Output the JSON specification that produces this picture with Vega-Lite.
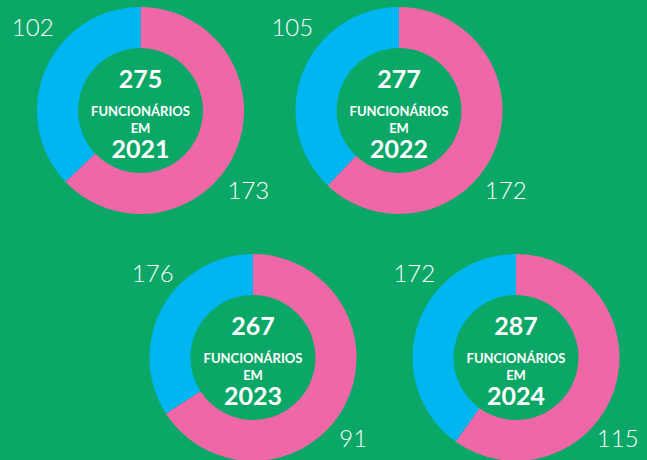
{
  "$schema": "https://vega.github.io/schema/vega-lite/v6.json",
  "background": "#0ba767",
  "padding": {"left": 0, "top": 0, "right": 14, "bottom": 0},
  "config": {"view": {"stroke": null}, "concat": {"spacing": 0}},
  "datasets": {
    "donuts": [
      {"ano": 2021, "genero": "Mulheres", "valor": 173, "rotulo": "173"},
      {"ano": 2021, "genero": "Homens", "valor": 102, "rotulo": "102"},
      {"ano": 2022, "genero": "Mulheres", "valor": 172, "rotulo": "172"},
      {"ano": 2022, "genero": "Homens", "valor": 105, "rotulo": "105"},
      {"ano": 2023, "genero": "Mulheres", "valor": 176, "rotulo": "91"},
      {"ano": 2023, "genero": "Homens", "valor": 91, "rotulo": "176"},
      {"ano": 2024, "genero": "Mulheres", "valor": 172, "rotulo": "115"},
      {"ano": 2024, "genero": "Homens", "valor": 115, "rotulo": "172"}
    ],
    "totais": [
      {"ano": 2021, "total": 275},
      {"ano": 2022, "total": 277},
      {"ano": 2023, "total": 267},
      {"ano": 2024, "total": 287}
    ]
  },
  "spacing": 0,
  "vconcat": [
    {
      "spacing": 0,
      "bounds": "flush",
      "hconcat": [
        {
          "width": 281, "height": 221,
          "layer": [
            {
              "data": {"name": "donuts"},
              "transform": [{"filter": "datum.ano == 2021"}],
              "mark": {"type": "arc", "innerRadius": 62.5, "outerRadius": 103.5},
              "encoding": {
                "theta": {"field": "valor", "type": "quantitative", "stack": true},
                "color": {"field": "genero", "type": "nominal", "scale": {"domain": ["Mulheres", "Homens"], "range": ["#f067a8", "#00b6f0"]}, "legend": null},
                "order": {"field": "genero", "sort": "descending"}
              }
            },
            {
              "data": {"name": "donuts"},
              "transform": [{"filter": "datum.ano == 2021"}],
              "mark": {"type": "text", "radius": 135, "thetaOffset": 0.24, "font": "Lato", "fontWeight": 300, "fontSize": 24, "color": "white", "align": "center", "baseline": "middle"},
              "encoding": {
                "theta": {"field": "valor", "type": "quantitative", "stack": true},
                "order": {"field": "genero", "sort": "descending"},
                "detail": {"field": "genero"},
                "text": {"field": "rotulo"}
              }
            },
            {
              "data": {"name": "totais"},
              "transform": [{"filter": "datum.ano == 2021"}],
              "mark": {"type": "text", "font": "Lato", "fontWeight": "bold", "fontSize": 25, "color": "white", "dy": -31},
              "encoding": {"text": {"field": "total"}}
            },
            {
              "data": {"name": "totais"},
              "transform": [{"filter": "datum.ano == 2021"}],
              "mark": {"type": "text", "font": "Lato", "fontWeight": "bold", "fontSize": 13, "color": "white", "dy": 1, "text": "FUNCIONÁRIOS"},
              "encoding": {}
            },
            {
              "data": {"name": "totais"},
              "transform": [{"filter": "datum.ano == 2021"}],
              "mark": {"type": "text", "font": "Lato", "fontWeight": "bold", "fontSize": 13, "color": "white", "dy": 18, "text": "EM"},
              "encoding": {}
            },
            {
              "data": {"name": "totais"},
              "transform": [{"filter": "datum.ano == 2021"}],
              "mark": {"type": "text", "font": "Lato", "fontWeight": "bold", "fontSize": 25, "color": "white", "dy": 39},
              "encoding": {"text": {"field": "ano", "type": "nominal"}}
            }
          ]
        },
        {
          "width": 236, "height": 221,
          "layer": [
            {
              "data": {"name": "donuts"},
              "transform": [{"filter": "datum.ano == 2022"}],
              "mark": {"type": "arc", "innerRadius": 62.5, "outerRadius": 103.5},
              "encoding": {
                "theta": {"field": "valor", "type": "quantitative", "stack": true},
                "color": {"field": "genero", "type": "nominal", "scale": {"domain": ["Mulheres", "Homens"], "range": ["#f067a8", "#00b6f0"]}, "legend": null},
                "order": {"field": "genero", "sort": "descending"}
              }
            },
            {
              "data": {"name": "donuts"},
              "transform": [{"filter": "datum.ano == 2022"}],
              "mark": {"type": "text", "radius": 134, "thetaOffset": 0.27, "font": "Lato", "fontWeight": 300, "fontSize": 24, "color": "white", "align": "center", "baseline": "middle"},
              "encoding": {
                "theta": {"field": "valor", "type": "quantitative", "stack": true},
                "order": {"field": "genero", "sort": "descending"},
                "detail": {"field": "genero"},
                "text": {"field": "rotulo"}
              }
            },
            {
              "data": {"name": "totais"},
              "transform": [{"filter": "datum.ano == 2022"}],
              "mark": {"type": "text", "font": "Lato", "fontWeight": "bold", "fontSize": 25, "color": "white", "dy": -31},
              "encoding": {"text": {"field": "total"}}
            },
            {
              "data": {"name": "totais"},
              "transform": [{"filter": "datum.ano == 2022"}],
              "mark": {"type": "text", "font": "Lato", "fontWeight": "bold", "fontSize": 13, "color": "white", "dy": 1, "text": "FUNCIONÁRIOS"},
              "encoding": {}
            },
            {
              "data": {"name": "totais"},
              "transform": [{"filter": "datum.ano == 2022"}],
              "mark": {"type": "text", "font": "Lato", "fontWeight": "bold", "fontSize": 13, "color": "white", "dy": 18, "text": "EM"},
              "encoding": {}
            },
            {
              "data": {"name": "totais"},
              "transform": [{"filter": "datum.ano == 2022"}],
              "mark": {"type": "text", "font": "Lato", "fontWeight": "bold", "fontSize": 25, "color": "white", "dy": 39},
              "encoding": {"text": {"field": "ano", "type": "nominal"}}
            }
          ]
        }
      ]
    },
    {
      "spacing": 0,
      "bounds": "flush",
      "hconcat": [
        {
          "width": 506, "height": 273,
          "layer": [
            {
              "data": {"name": "donuts"},
              "transform": [{"filter": "datum.ano == 2023"}],
              "mark": {"type": "arc", "innerRadius": 62.5, "outerRadius": 103.5},
              "encoding": {
                "theta": {"field": "valor", "type": "quantitative", "stack": true},
                "color": {"field": "genero", "type": "nominal", "scale": {"domain": ["Mulheres", "Homens"], "range": ["#f067a8", "#00b6f0"]}, "legend": null},
                "order": {"field": "genero", "sort": "descending"}
              }
            },
            {
              "data": {"name": "donuts"},
              "transform": [{"filter": "datum.ano == 2023"}],
              "mark": {"type": "text", "radius": 130, "thetaOffset": 0.19, "font": "Lato", "fontWeight": 300, "fontSize": 24, "color": "white", "align": "center", "baseline": "middle"},
              "encoding": {
                "theta": {"field": "valor", "type": "quantitative", "stack": true},
                "order": {"field": "genero", "sort": "descending"},
                "detail": {"field": "genero"},
                "text": {"field": "rotulo"}
              }
            },
            {
              "data": {"name": "totais"},
              "transform": [{"filter": "datum.ano == 2023"}],
              "mark": {"type": "text", "font": "Lato", "fontWeight": "bold", "fontSize": 25, "color": "white", "dy": -31},
              "encoding": {"text": {"field": "total"}}
            },
            {
              "data": {"name": "totais"},
              "transform": [{"filter": "datum.ano == 2023"}],
              "mark": {"type": "text", "font": "Lato", "fontWeight": "bold", "fontSize": 13, "color": "white", "dy": 1, "text": "FUNCIONÁRIOS"},
              "encoding": {}
            },
            {
              "data": {"name": "totais"},
              "transform": [{"filter": "datum.ano == 2023"}],
              "mark": {"type": "text", "font": "Lato", "fontWeight": "bold", "fontSize": 13, "color": "white", "dy": 18, "text": "EM"},
              "encoding": {}
            },
            {
              "data": {"name": "totais"},
              "transform": [{"filter": "datum.ano == 2023"}],
              "mark": {"type": "text", "font": "Lato", "fontWeight": "bold", "fontSize": 25, "color": "white", "dy": 39},
              "encoding": {"text": {"field": "ano", "type": "nominal"}}
            }
          ]
        },
        {
          "width": 20, "height": 273,
          "layer": [
            {
              "data": {"name": "donuts"},
              "transform": [{"filter": "datum.ano == 2024"}],
              "mark": {"type": "arc", "innerRadius": 62.5, "outerRadius": 103.5},
              "encoding": {
                "theta": {"field": "valor", "type": "quantitative", "stack": true},
                "color": {"field": "genero", "type": "nominal", "scale": {"domain": ["Mulheres", "Homens"], "range": ["#f067a8", "#00b6f0"]}, "legend": null},
                "order": {"field": "genero", "sort": "descending"}
              }
            },
            {
              "data": {"name": "donuts"},
              "transform": [{"filter": "datum.ano == 2024"}],
              "mark": {"type": "text", "radius": 131, "thetaOffset": 0.37, "font": "Lato", "fontWeight": 300, "fontSize": 24, "color": "white", "align": "center", "baseline": "middle"},
              "encoding": {
                "theta": {"field": "valor", "type": "quantitative", "stack": true},
                "order": {"field": "genero", "sort": "descending"},
                "detail": {"field": "genero"},
                "text": {"field": "rotulo"}
              }
            },
            {
              "data": {"name": "totais"},
              "transform": [{"filter": "datum.ano == 2024"}],
              "mark": {"type": "text", "font": "Lato", "fontWeight": "bold", "fontSize": 25, "color": "white", "dy": -31},
              "encoding": {"text": {"field": "total"}}
            },
            {
              "data": {"name": "totais"},
              "transform": [{"filter": "datum.ano == 2024"}],
              "mark": {"type": "text", "font": "Lato", "fontWeight": "bold", "fontSize": 13, "color": "white", "dy": 1, "text": "FUNCIONÁRIOS"},
              "encoding": {}
            },
            {
              "data": {"name": "totais"},
              "transform": [{"filter": "datum.ano == 2024"}],
              "mark": {"type": "text", "font": "Lato", "fontWeight": "bold", "fontSize": 13, "color": "white", "dy": 18, "text": "EM"},
              "encoding": {}
            },
            {
              "data": {"name": "totais"},
              "transform": [{"filter": "datum.ano == 2024"}],
              "mark": {"type": "text", "font": "Lato", "fontWeight": "bold", "fontSize": 25, "color": "white", "dy": 39},
              "encoding": {"text": {"field": "ano", "type": "nominal"}}
            }
          ]
        }
      ]
    }
  ]
}
